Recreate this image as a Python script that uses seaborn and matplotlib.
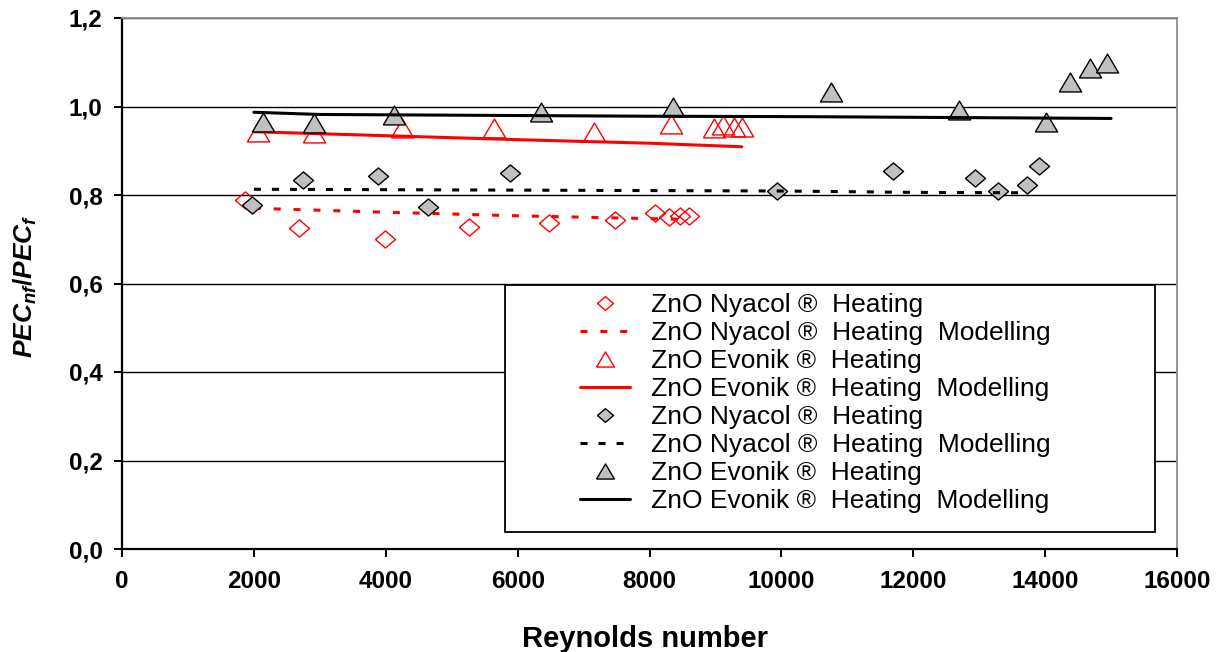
import matplotlib
matplotlib.use("Agg")
import matplotlib.pyplot as plt
import seaborn as sns
from matplotlib.patches import Rectangle
from matplotlib.ticker import FuncFormatter

# ---------------- data ----------------
# ZnO Nyacol (red, hollow diamonds) experimental + model
re_nyacol_exp = [1870, 2690, 3990, 5260, 6480, 7480, 8080, 8300, 8460, 8600]
pec_nyacol_exp = [0.789, 0.725, 0.700, 0.728, 0.737, 0.743, 0.759, 0.750, 0.752, 0.752]
re_nyacol_mod = [2000, 4000, 6000, 8500]
pec_nyacol_mod = [0.770, 0.761, 0.753, 0.745]

# ZnO Evonik (red, hollow triangles) experimental + model
re_evonik_exp = [2060, 2910, 4250, 5640, 7160, 8330, 8980, 9110, 9280, 9400]
pec_evonik_exp = [0.942, 0.940, 0.951, 0.951, 0.942, 0.960, 0.951, 0.958, 0.954, 0.954]
re_evonik_mod = [2000, 4000, 6000, 8000, 9400]
pec_evonik_mod = [0.943, 0.934, 0.925, 0.917, 0.909]

# ZnO Nyacol (grey, filled diamonds) experimental + model
re_nyacol2_exp = [1970, 2750, 3890, 4640, 5880, 9930, 11690, 12940, 13290, 13720, 13910]
pec_nyacol2_exp = [0.777, 0.835, 0.843, 0.773, 0.850, 0.809, 0.854, 0.838, 0.809, 0.823, 0.866]
re_nyacol2_mod = [2000, 6000, 10000, 12000, 13700]
pec_nyacol2_mod = [0.813, 0.811, 0.809, 0.806, 0.805]

# ZnO Evonik (grey, filled triangles) experimental + model
re_evonik2_exp = [2140, 2910, 4130, 6350, 8350, 10760, 12700, 14010, 14380, 14680, 14940]
pec_evonik2_exp = [0.966, 0.962, 0.981, 0.988, 0.999, 1.033, 0.992, 0.966, 1.056, 1.086, 1.098]
re_evonik2_mod = [2000, 3000, 8000, 10400, 15000]
pec_evonik2_mod = [0.987, 0.982, 0.978, 0.977, 0.973]

legend_labels = [
    "ZnO Nyacol \u00ae  Heating",
    "ZnO Nyacol \u00ae  Heating  Modelling",
    "ZnO Evonik \u00ae  Heating",
    "ZnO Evonik \u00ae  Heating  Modelling",
    "ZnO Nyacol \u00ae  Heating",
    "ZnO Nyacol \u00ae  Heating  Modelling",
    "ZnO Evonik \u00ae  Heating",
    "ZnO Evonik \u00ae  Heating  Modelling",
]

x_ticks = [0, 2000, 4000, 6000, 8000, 10000, 12000, 14000, 16000]
y_ticks = [0.0, 0.2, 0.4, 0.6, 0.8, 1.0, 1.2]

# ---------------- style ----------------
sns.set_theme(style="white")
plt.rcParams['font.family'] = ['Liberation Sans', 'DejaVu Sans']
plt.rcParams['text.color'] = 'black'
plt.rcParams['mathtext.fontset'] = 'custom'
plt.rcParams['mathtext.it'] = 'Liberation Sans:italic:bold'
plt.rcParams['mathtext.rm'] = 'Liberation Sans:bold'
plt.rcParams['mathtext.bf'] = 'Liberation Sans:bold'

fig = plt.figure(figsize=(12.19, 6.52), dpi=100)
ax = fig.add_axes([122 / 1219, 1 - 549 / 652, 1055 / 1219, 531 / 652])

DIAMOND = [(-1, 0), (0, 0.85), (1, 0), (0, -0.85), (-1, 0)]
TRIANGLE = [(-1, -0.85), (1, -0.85), (0, 0.85), (-1, -0.85)]
GREY = "#c0c0c0"

h = []
# red Nyacol
h.append(sns.lineplot(x=re_nyacol_exp, y=pec_nyacol_exp, ax=ax, linestyle="none",
                      marker=DIAMOND, markersize=14.5, color="red", markerfacecolor="none",
                      markeredgecolor="red", markeredgewidth=1.0, zorder=3).lines[-1])
h.append(sns.lineplot(x=re_nyacol_mod, y=pec_nyacol_mod, ax=ax, color="red", lw=2.2,
                      linestyle=(0, (2.3, 4.2)), zorder=3).lines[-1])
# red Evonik
h.append(sns.lineplot(x=re_evonik_exp, y=pec_evonik_exp, ax=ax, linestyle="none",
                      marker=TRIANGLE, markersize=16, color="red", markerfacecolor="none",
                      markeredgecolor="red", markeredgewidth=1.0, zorder=3).lines[-1])
h.append(sns.lineplot(x=re_evonik_mod, y=pec_evonik_mod, ax=ax, color="red", lw=2.2,
                      linestyle="-", zorder=3).lines[-1])
# grey Nyacol
h.append(sns.lineplot(x=re_nyacol2_exp, y=pec_nyacol2_exp, ax=ax, linestyle="none",
                      marker=DIAMOND, markersize=14.5, color=GREY, markerfacecolor=GREY,
                      markeredgecolor="black", markeredgewidth=1.0, zorder=3).lines[-1])
h.append(sns.lineplot(x=re_nyacol2_mod, y=pec_nyacol2_mod, ax=ax, color="black", lw=2.2,
                      linestyle=(0, (2.3, 3.6)), zorder=3).lines[-1])
# grey Evonik
h.append(sns.lineplot(x=re_evonik2_exp, y=pec_evonik2_exp, ax=ax, linestyle="none",
                      marker=TRIANGLE, markersize=16, color=GREY, markerfacecolor=GREY,
                      markeredgecolor="black", markeredgewidth=1.0, zorder=3).lines[-1])
h.append(sns.lineplot(x=re_evonik2_mod, y=pec_evonik2_mod, ax=ax, color="black", lw=2.2,
                      linestyle="-", zorder=3).lines[-1])

# ---------------- axes ----------------
ax.set_xlim(0, 16000)
ax.set_ylim(0, 1.2)
ax.set_xticks(x_ticks)
ax.set_yticks(y_ticks)
ax.yaxis.set_major_formatter(FuncFormatter(lambda v, p: f"{v:.1f}".replace(".", ",")))
ax.xaxis.set_major_formatter(FuncFormatter(lambda v, p: f"{int(round(v))}"))
ax.set_xlabel("")
ax.set_ylabel("")

ax.yaxis.grid(True, color="black", lw=1.0)
ax.xaxis.grid(False)
ax.set_axisbelow(True)

for side in ("left", "bottom"):
    ax.spines[side].set_color("black")
    ax.spines[side].set_linewidth(1.6)
for side in ("top", "right"):
    ax.spines[side].set_color("#8c8c8c")
    ax.spines[side].set_linewidth(1.3)

ax.tick_params(axis="both", which="major", direction="out", bottom=True, left=True,
               length=6, width=1.4, color="black", labelsize=17.5, labelcolor="black")
ax.tick_params(axis="x", pad=9)
ax.tick_params(axis="y", pad=8)
for lab in ax.get_xticklabels() + ax.get_yticklabels():
    lab.set_fontweight("bold")

fig.text(645 / 1219, 1 - 647 / 652, "Reynolds number", ha="center", va="baseline",
         fontsize=21, fontweight="bold", color="black")
fig.text(25 / 1219, 1 - 286 / 652, r"$PEC_{nf}/PEC_{f}$", rotation=90,
         ha="center", va="center", fontsize=19, color="black")

# ---------------- legend ----------------
ax.add_patch(Rectangle((0.363, 0.032), 0.979 - 0.363, 0.4965 - 0.032,
                       transform=ax.transAxes, facecolor="white", edgecolor="black",
                       lw=1.3, zorder=4))
leg = ax.legend(h, legend_labels, loc="upper left", bbox_to_anchor=(0.4341, 0.482),
                frameon=False, borderpad=0, borderaxespad=0, fontsize=19,
                handlelength=1.9, handletextpad=0.8, labelspacing=0.15,
                markerscale=0.8)
for t in leg.get_texts():
    t.set_color("black")
leg.set_zorder(5)

fig.savefig("out.png", dpi=100, facecolor="white")
